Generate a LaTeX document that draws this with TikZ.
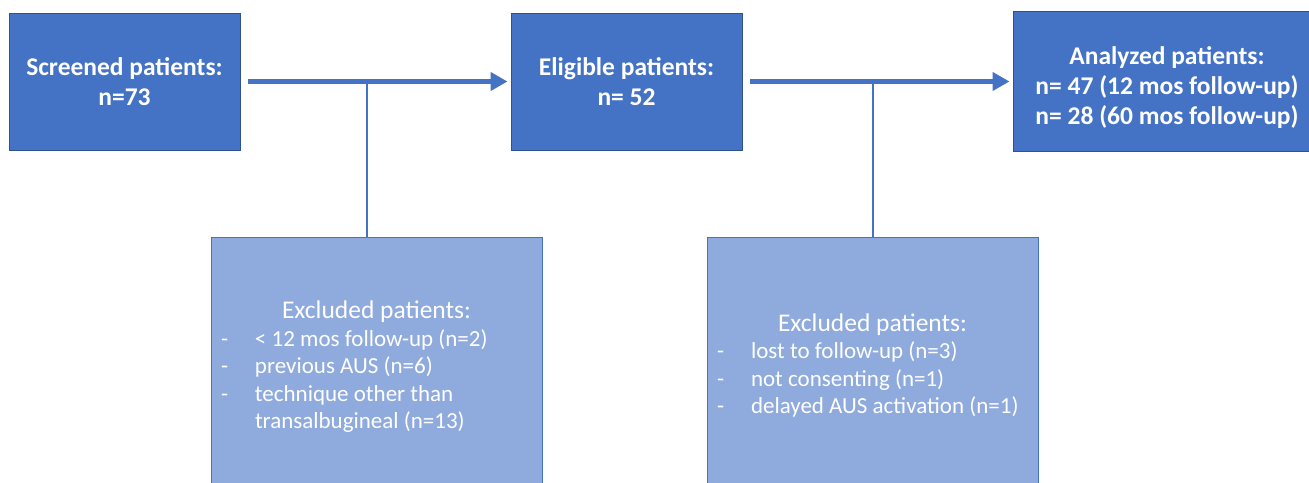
\documentclass[tikz,border=0pt]{standalone}
\usepackage{fontspec}
\setmainfont{Carlito}
\usepackage{xcolor}
\usetikzlibrary{arrows.meta, positioning}

\definecolor{boxblue}{HTML}{4472C4}
\definecolor{boxedge}{HTML}{2F528F}
\definecolor{exblue}{HTML}{8FAADC}

\newcommand{\extitle}{\multicolumn{2}{@{}c@{}}{\makebox[311pt]{\fontsize{25.5}{27.5}\selectfont Excluded patients:}}}

\begin{document}
\begin{tikzpicture}[x=1pt, y=1pt, >=Stealth,
    topbox/.style={rectangle, draw=boxedge, line width=1pt, fill=boxblue, text=white, font=\bfseries\fontsize{25.5}{30}\selectfont, align=center, minimum width=231pt, minimum height=137pt, inner sep=0pt},
    exbox/.style={rectangle, draw=boxblue, line width=1pt, fill=exblue, minimum width=331pt, minimum height=252pt},
    extext/.style={text=white, font=\fontsize{23}{27.5}\selectfont, inner sep=0pt},
    flow/.style={boxblue, line width=5pt, -{Triangle[length=17pt, width=18pt]}, shorten <=7pt, shorten >=3pt},
    split/.style={boxblue, line width=2pt}]
    \useasboundingbox (0,0) rectangle (1309,-482);

    \node[topbox] (screened) at (124.5,-81.5) {Screened patients:\\n=73};
    \node[topbox, right=270pt of screened] (eligible) {Eligible patients:\\n= 52};
    \node[topbox, minimum width=308pt, minimum height=140pt, right=270pt of eligible] (analyzed) {\rule{0pt}{31pt}Analyzed patients:\\n= 47 (12 mos follow-up)\\n= 28 (60 mos follow-up)};

    \node[exbox] (exa) at (376.5,-363) {};
    \node[exbox] (exb) at (872.5,-363) {};

    \node[extext] (exatext) at ([yshift=-5pt]exa.center) {\begin{tabular}{@{}p{34pt}@{}l@{}}
        \extitle\\
        - & < 12 mos follow-up (n=2)\\
        - & previous AUS (n=6)\\
        - & technique other than\\
          & transalbugineal (n=13)
        \end{tabular}};
    \node[extext] (exbtext) at ([yshift=-4pt]exb.center) {\begin{tabular}{@{}p{34pt}@{}l@{}}
        \extitle\\
        - & lost to follow-up (n=3)\\
        - & not consenting (n=1)\\
        - & delayed AUS activation (n=1)
        \end{tabular}};

    \coordinate (forka) at (366.5,-81.5);
    \coordinate (forkb) at (872.5,-81.5);

    \draw[flow] (screened) -- (eligible);
    \draw[flow] (eligible) -- (analyzed);
    \draw[split] (forka) -- (forka |- exa.north);
    \draw[split] (forkb) -- (forkb |- exb.north);
\end{tikzpicture}
\end{document}
